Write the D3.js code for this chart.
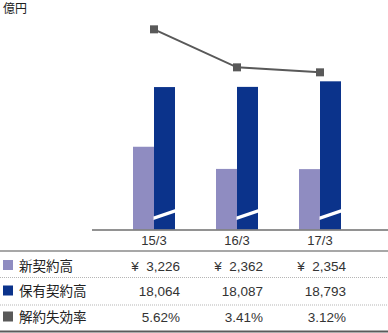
<!DOCTYPE html>
<html>
<head>
<meta charset="utf-8">
<script src="https://cdn.jsdelivr.net/npm/d3@7"></script>
<style>
  html, body { margin: 0; padding: 0; background: #fff; }
  svg { display: block; }
  text { font-family: "Liberation Sans", "Noto Sans CJK JP", sans-serif; fill: #333; white-space: pre; }
</style>
</head>
<body>
<svg id="chart" width="388" height="333"></svg>
<script>
// Fiscal year-end categories
const categories = ["15/3", "16/3", "17/3"];
// 新契約高 (億円)
const newContracts = [3226, 2362, 2354];
// 保有契約高 (億円)
const holdings = [18064, 18087, 18793];
// 解約失効率 (%)
const lapseRates = [5.62, 3.41, 3.12];

const newLabels = ["¥  3,226", "¥  2,362", "¥  2,354"];
const holdLabels = ["18,064", "18,087", "18,793"];
const rateLabels = ["5.62%", "3.41%", "3.12%"];

const seriesNames = ["新契約高", "保有契約高", "解約失効率"];
const colors = ["#8f8cc1", "#0b338b", "#595959"];

const svg = d3.select("#chart");
const baseY = 229.5;
const barW = 21;

const x = d3.scalePoint().domain(categories).range([154, 320]);
const yNew = d3.scaleLinear().domain([0, 4000]).range([baseY, baseY - 102.6]);
const yHold = d3.scaleLinear().domain([0, 20000]).range([baseY, baseY - 157.7]);
const yRate = d3.scaleLinear().domain([0, 6]).range([126, 126 - 103.2]);

// unit label
svg.append("text").attr("x", 3).attr("y", 13).attr("font-size", 12)
  .style("fill", "#222").text("億円");

// 新契約高 bars
svg.selectAll(".bar-new").data(categories).join("rect")
  .attr("class", "bar-new")
  .attr("x", d => x(d) - barW)
  .attr("width", barW)
  .attr("y", (d, i) => yNew(newContracts[i]))
  .attr("height", (d, i) => baseY - yNew(newContracts[i]))
  .attr("fill", colors[0]);

// 保有契約高 bars
svg.selectAll(".bar-hold").data(categories).join("rect")
  .attr("class", "bar-hold")
  .attr("x", d => x(d))
  .attr("width", barW)
  .attr("y", (d, i) => yHold(holdings[i]))
  .attr("height", (d, i) => baseY - yHold(holdings[i]))
  .attr("fill", colors[1]);

// scale-break slash across the holdings bars
svg.selectAll(".break").data(categories).join("polygon")
  .attr("class", "break")
  .attr("points", d => {
    const x0 = x(d) - 0.5, x1 = x(d) + barW + 0.5;
    return [[x0, 216.5], [x1, 209], [x1, 212.5], [x0, 220]].map(p => p.join(",")).join(" ");
  })
  .attr("fill", "#fff");

// category axis line
svg.append("line").attr("x1", 92).attr("x2", 388)
  .attr("y1", baseY + 0.5).attr("y2", baseY + 0.5)
  .attr("stroke", "#6e6e6e").attr("stroke-width", 1.5);

// 解約失効率 line
const line = d3.line().x((d, i) => x(categories[i])).y(d => yRate(d));
svg.append("path").datum(lapseRates)
  .attr("d", line).attr("fill", "none")
  .attr("stroke", colors[2]).attr("stroke-width", 2);
svg.selectAll(".marker").data(lapseRates).join("rect")
  .attr("class", "marker")
  .attr("x", (d, i) => x(categories[i]) - 4)
  .attr("y", d => yRate(d) - 4)
  .attr("width", 8).attr("height", 8)
  .attr("fill", colors[2]);

// category labels
svg.selectAll(".cat").data(categories).join("text")
  .attr("class", "cat")
  .attr("x", d => x(d)).attr("y", 245)
  .attr("text-anchor", "middle").attr("font-size", 13)
  .text(d => d);

// data table rules
svg.append("line").attr("x1", 0).attr("x2", 388).attr("y1", 251).attr("y2", 251)
  .attr("stroke", "#8a8a8a").attr("stroke-width", 1.5);
[277.5, 305].forEach(yy => {
  svg.append("line").attr("x1", 0).attr("x2", 388).attr("y1", yy).attr("y2", yy)
    .attr("stroke", "#b5b5b5").attr("stroke-width", 1).attr("stroke-dasharray", "1,1");
});
svg.append("line").attr("x1", 0).attr("x2", 388).attr("y1", 331.5).attr("y2", 331.5)
  .attr("stroke", "#5a5a5a").attr("stroke-width", 2);

// table rows
const rowBase = [270.5, 296, 322];
const rowLabels = [newLabels, holdLabels, rateLabels];
const valueRight = d3.scalePoint().domain(categories).range([180, 346]);

seriesNames.forEach((name, r) => {
  svg.append("rect").attr("x", 3).attr("y", rowBase[r] - 10.5)
    .attr("width", 10).attr("height", 10).attr("fill", colors[r]);
  svg.append("text").attr("x", 19).attr("y", rowBase[r])
    .attr("font-size", 13.5).style("fill", "#222").text(name);
  svg.selectAll(".v" + r).data(categories).join("text")
    .attr("class", "v" + r)
    .attr("x", d => valueRight(d)).attr("y", rowBase[r])
    .attr("text-anchor", "end").attr("font-size", 13.5)
    .text((d, i) => rowLabels[r][i]);
});
</script>
</body>
</html>
